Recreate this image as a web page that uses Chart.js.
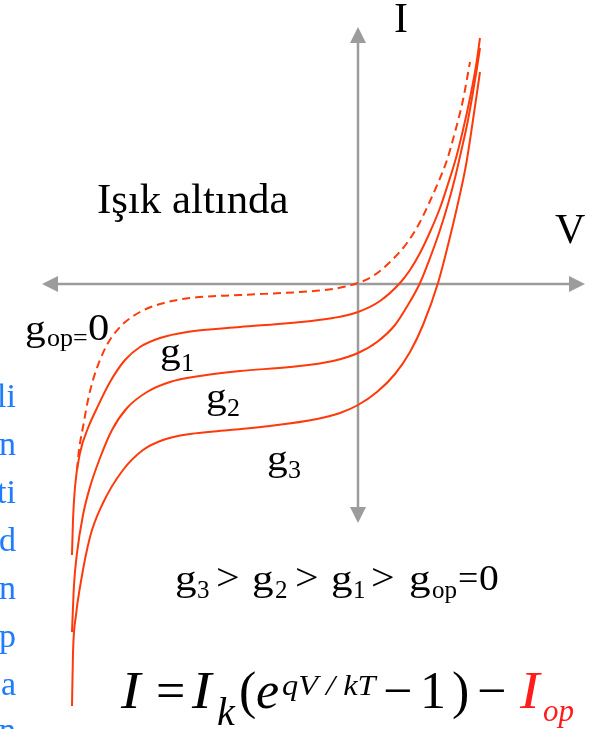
<!DOCTYPE html>
<html>
<head>
<meta charset="utf-8">
<script src="https://cdn.jsdelivr.net/npm/chart.js@4.4.1/dist/chart.umd.min.js"></script>
<style>
    html, body { margin: 0; padding: 0; background: #ffffff; }
    #wrap { position: relative; width: 597px; height: 729px; }
</style>
</head>
<body>
<div id="wrap"><canvas id="ivChart"></canvas></div>
<script>
// I-V curves of an illuminated cell, arbitrary units (V to the right, I upwards)
const darkV = [-28.1, -27.9, -27.5, -27.0, -26.5, -25.8, -25.0, -23.6, -21.8, -19.8, -16.8, -11.8, -5.8, -2.5, 0, 1.5, 3.2, 4.9, 6.2, 7.2, 8.0, 8.9, 9.7, 10.5, 11.2];
const darkI = [-18.6, -16.6, -14.3, -11.6, -9.6, -7.6, -5.9, -4.1, -2.8, -2.0, -1.4, -1.1, -0.8, -0.5, 0.1, 0.8, 2.2, 4.1, 6.2, 8.3, 10.1, 12.4, 15.2, 18.4, 22.2];

const g1V = [-28.6, -28.5, -28.3, -27.8, -27.0, -26.1, -24.8, -23.3, -21.8, -19.8, -17.1, -11.8, -6.8, -2.5, 0, 2.2, 4.2, 5.2, 6.2, 7.2, 8.2, 9.0, 9.8, 10.5, 11.2, 11.8, 12.2];
const g1I = [-27.1, -23.6, -20.3, -16.9, -14.4, -12.4, -9.8, -7.6, -6.3, -5.4, -4.8, -4.3, -3.9, -3.4, -2.8, -1.7, 0.1, 1.4, 3.1, 5.2, 7.6, 10.0, 12.6, 15.4, 18.6, 21.8, 24.6];

const g2V = [-28.6, -28.4, -28.1, -27.5, -26.8, -25.8, -24.6, -23.1, -21.1, -18.8, -15.8, -11.8, -6.8, -2.5, 0, 1.9, 3.7, 5.0, 6.2, 7.2, 8.2, 9.0, 9.7, 10.3, 10.9, 11.4, 11.9, 12.2];
const g2I = [-34.8, -30.1, -26.9, -23.1, -20.3, -17.4, -14.6, -12.4, -10.8, -9.8, -9.2, -8.7, -8.3, -7.7, -6.9, -5.8, -4.1, -2.1, 0.1, 2.6, 5.4, 8.0, 10.6, 13.2, 15.9, 18.6, 21.6, 23.6];

const g3V = [-28.6, -28.5, -28.2, -27.8, -26.8, -25.5, -23.5, -21.5, -19.5, -16.8, -12.8, -8.8, -4.1, -1.8, 0, 1.9, 3.7, 5.2, 6.5, 8.0, 9.2, 10.0, 10.8, 11.5, 12.2];
const g3I = [-42.2, -36.9, -33.1, -30.3, -25.3, -21.9, -18.6, -16.6, -15.6, -15.0, -14.6, -14.2, -13.5, -12.9, -12.1, -10.8, -9.0, -6.8, -4.1, 0.1, 4.7, 8.1, 11.9, 16.4, 21.2];

// axis extents (arrow tips)
const axisV = [-31.6, 22.7];
const axisI = [-23.9, 25.7];

// margin text lines on the left edge
const sideLines = ['li', 'n', 'ti', 'd', 'n', 'p', 'a', 'n'];
const sideBaselines = [-12.3, -17.1, -21.9, -26.7, -31.5, -36.3, -41.1, -45.7];

const SERIF = '"Liberation Serif", "Times New Roman", serif';
const CURVE = '#ff3a0a';
const AXIS = '#9c9c9c';
const RED = '#ff1c1c';

function toPoints(xs, ys) {
    return xs.map((v, i) => ({ x: v, y: ys[i] }));
}

function curve(label, xs, ys, dashed) {
    return {
        label: label,
        data: toPoints(xs, ys),
        borderColor: CURVE,
        borderWidth: 2,
        borderDash: dashed ? [8, 5] : [],
        pointRadius: 0,
        fill: false,
        cubicInterpolationMode: 'monotone'
    };
}

// draws a run of text pieces (sub/superscripts, italics, stretched glyphs)
function drawParts(ctx, x, y, parts) {
    let cx = x;
    parts.forEach(p => {
        const sx = p.sx || 1;
        ctx.font = (p.italic ? 'italic ' : '') + p.size + 'px ' + SERIF;
        ctx.fillStyle = p.color || '#000000';
        const px = p.at !== undefined ? x + p.at : cx;
        ctx.save();
        ctx.translate(px, y + (p.dy || 0));
        ctx.scale(sx, 1);
        ctx.fillText(p.t, 0, 0);
        ctx.restore();
        cx = px + ctx.measureText(p.t).width * sx + (p.gap || 0);
    });
}

const gLabel = (sub) => [
    { t: 'g', size: 36, sx: 1.15, at: 0 },
    { t: sub, size: 26, dy: 8, at: 21 }
];

const textItems = [
    { v: 3.6, i: 25.2, parts: [{ t: 'I', size: 42 }] },
    { v: 19.7, i: 4.1, parts: [{ t: 'V', size: 42 }] },
    { v: -26.1, i: 7.1, parts: [{ t: 'Işık altında', size: 42, sx: 1.02 }] },
    {
        v: -33.3, i: -5.6, parts: [
            { t: 'g', size: 36, sx: 1.15, at: 0 },
            { t: 'op=', size: 26, dy: 6, at: 22 },
            { t: '0', size: 37, sx: 1.15, at: 63 }
        ]
    },
    { v: -19.8, i: -7.9, parts: gLabel('1') },
    { v: -15.2, i: -12.4, parts: gLabel('2') },
    { v: -9.1, i: -18.6, parts: gLabel('3') },
    {
        v: -18.3, i: -30.6, parts: [
            { t: 'g', size: 36, sx: 1.2, at: 0 }, { t: '3', size: 25, dy: 8, at: 22 }, { t: '>', size: 38, sx: 1.1, at: 41 },
            { t: 'g', size: 36, sx: 1.2, at: 77 }, { t: '2', size: 25, dy: 8, at: 100 }, { t: '>', size: 38, sx: 1.1, at: 120 },
            { t: 'g', size: 36, sx: 1.2, at: 156 }, { t: '1', size: 25, dy: 8, at: 178 }, { t: '>', size: 38, sx: 1.1, at: 196 },
            { t: 'g', size: 36, sx: 1.2, at: 234 }, { t: 'op', size: 25, dy: 8, at: 257 },
            { t: '=', size: 36, at: 283 }, { t: '0', size: 36, sx: 1.1, at: 304 }
        ]
    },
    {
        v: -23.8, i: -42.4, parts: [
            { t: 'I', size: 53, italic: true, sx: 1.1, at: 1 },
            { t: '=', size: 52, at: 36 },
            { t: 'I', size: 53, italic: true, sx: 1.1, at: 72 },
            { t: 'k', size: 40, italic: true, at: 97, dy: 17 },
            { t: '(', size: 52, at: 119 },
            { t: 'e', size: 52, italic: true, at: 136 },
            { t: 'qV / kT', size: 30, italic: true, sx: 1.08, at: 162, dy: -13 },
            { t: '\u2212', size: 52, at: 263 },
            { t: '1', size: 52, at: 300 },
            { t: ')', size: 52, at: 332 },
            { t: '\u2212', size: 52, at: 357 },
            { t: 'I', size: 53, italic: true, sx: 1.1, at: 400, color: RED },
            { t: 'op', size: 31, italic: true, at: 423, dy: 13, color: RED }
        ]
    }
];

const axesPlugin = {
    id: 'crossAxes',
    beforeDatasetsDraw(chart) {
        const { ctx, scales: { x, y } } = chart;
        const ox = x.getPixelForValue(0);
        const oy = y.getPixelForValue(0);
        const left = x.getPixelForValue(axisV[0]);
        const right = x.getPixelForValue(axisV[1]);
        const top = y.getPixelForValue(axisI[1]);
        const bottom = y.getPixelForValue(axisI[0]);
        const head = 16, half = 8;

        ctx.save();
        ctx.strokeStyle = AXIS;
        ctx.fillStyle = AXIS;
        ctx.lineWidth = 2.5;
        ctx.beginPath();
        ctx.moveTo(left + head - 2, oy);
        ctx.lineTo(right - head + 2, oy);
        ctx.moveTo(ox, top + head - 2);
        ctx.lineTo(ox, bottom - head + 2);
        ctx.stroke();

        const tri = (ax, ay, bx, by, cx, cy) => {
            ctx.beginPath();
            ctx.moveTo(ax, ay);
            ctx.lineTo(bx, by);
            ctx.lineTo(cx, cy);
            ctx.closePath();
            ctx.fill();
        };
        tri(left, oy, left + head, oy - half, left + head, oy + half);
        tri(right, oy, right - head, oy - half, right - head, oy + half);
        tri(ox, top, ox - half, top + head, ox + half, top + head);
        tri(ox, bottom, ox - half, bottom - head, ox + half, bottom - head);
        ctx.restore();
    }
};

const textPlugin = {
    id: 'figureText',
    afterDatasetsDraw(chart) {
        const { ctx, scales: { x, y } } = chart;
        ctx.save();
        ctx.textBaseline = 'alphabetic';

        textItems.forEach(item => {
            drawParts(ctx, x.getPixelForValue(item.v), y.getPixelForValue(item.i), item.parts);
        });

        // clipped margin text, right aligned
        ctx.textAlign = 'right';
        ctx.fillStyle = '#1f7bff';
        ctx.font = '34px ' + SERIF;
        sideLines.forEach((t, k) => {
            ctx.fillText(t, x.getPixelForValue(-34.2), y.getPixelForValue(sideBaselines[k]));
        });
        ctx.restore();
    }
};

new Chart(document.getElementById('ivChart').getContext('2d'), {
    type: 'line',
    data: {
        datasets: [
            curve('g_op = 0', darkV, darkI, true),
            curve('g1', g1V, g1I, false),
            curve('g2', g2V, g2I, false),
            curve('g3', g3V, g3I, false)
        ]
    },
    options: {
        responsive: true,
        maintainAspectRatio: false,
        animation: false,
        layout: { padding: 0 },
        scales: {
            x: { type: 'linear', min: -35.8, max: 23.9, display: false },
            y: { type: 'linear', min: -44.5, max: 28.4, display: false }
        },
        plugins: {
            legend: { display: false },
            tooltip: { enabled: false }
        }
    },
    plugins: [axesPlugin, textPlugin]
});
</script>
</body>
</html>
